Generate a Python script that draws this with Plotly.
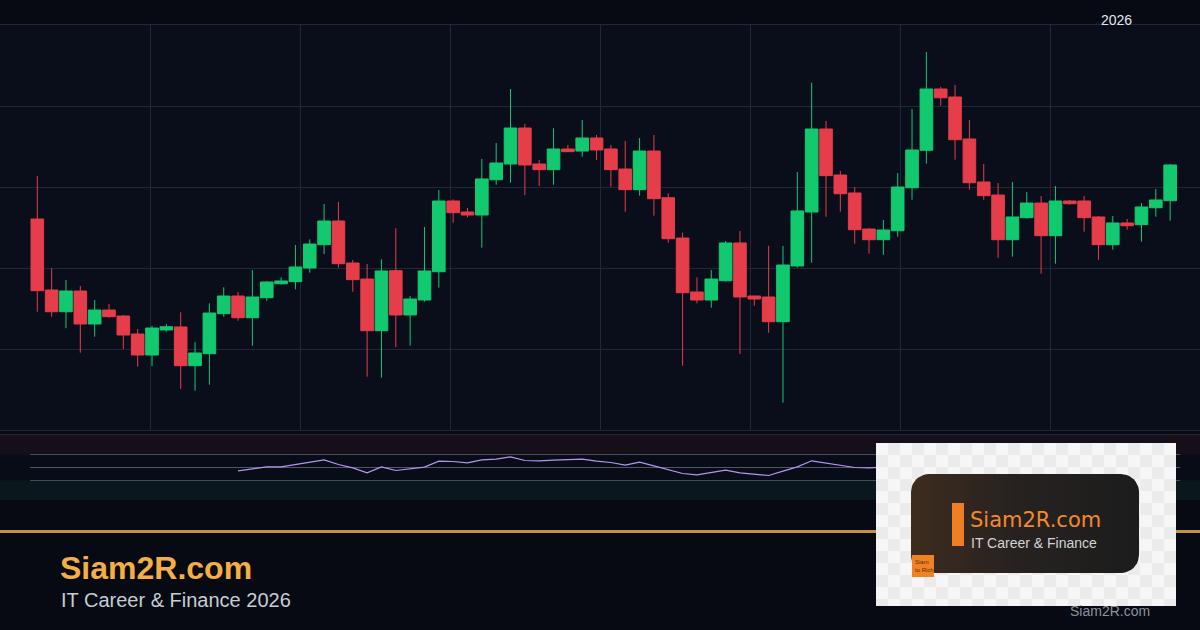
import math
import plotly.graph_objects as go

# ---------------- data ----------------
opens = [126.05, 117.28, 114.60, 117.16, 113.09, 114.81, 114.07, 111.85, 109.26, 112.35,
         112.72, 107.94, 109.42, 114.36, 116.54, 113.86, 116.33, 118.06, 118.31, 120.00,
         122.88, 125.80, 120.62, 118.64, 112.26, 119.67, 114.20, 116.05, 119.54, 128.27,
         126.91, 126.54, 130.90, 132.84, 137.28, 132.84, 132.14, 134.69, 134.44, 136.05,
         134.69, 132.22, 129.67, 134.44, 128.68, 123.70, 117.04, 116.05, 118.43, 123.09,
         116.54, 116.42, 113.37, 120.25, 126.91, 137.16, 131.48, 129.26, 124.81, 123.49,
         124.60, 129.91, 134.53, 142.10, 141.11, 135.93, 130.62, 129.01, 123.49, 126.21,
         128.02, 123.99, 128.27, 128.27, 126.30, 122.88, 125.56, 125.35, 127.44, 128.31]
highs = [131.36, 119.96, 118.52, 117.78, 116.05, 115.56, 114.20, 112.47, 112.84, 113.09,
         114.53, 110.83, 115.64, 117.62, 117.04, 119.75, 118.40, 118.85, 122.84, 123.54,
         127.90, 128.15, 120.99, 120.49, 121.07, 124.90, 116.54, 125.06, 129.63, 128.48,
         127.41, 133.46, 135.43, 142.10, 137.78, 133.33, 137.25, 135.19, 138.27, 136.42,
         135.19, 135.68, 136.05, 136.42, 129.22, 124.36, 118.85, 119.75, 123.33, 124.57,
         116.60, 122.75, 122.72, 131.85, 142.88, 138.15, 131.98, 130.00, 124.94, 125.93,
         131.73, 139.63, 146.67, 142.35, 142.59, 138.27, 132.84, 130.49, 130.62, 129.38,
         128.89, 130.12, 128.40, 128.89, 126.42, 126.42, 126.05, 128.02, 129.75, 132.84]
lows = [114.60, 113.99, 112.56, 109.54, 111.52, 113.86, 110.00, 107.81, 107.90, 112.14,
        105.06, 104.85, 105.59, 113.99, 113.49, 110.41, 115.96, 117.95, 117.37, 119.42,
        121.73, 120.04, 117.07, 106.58, 106.46, 110.25, 110.41, 115.84, 117.57, 125.59,
        126.26, 122.51, 130.28, 130.53, 129.01, 130.12, 130.28, 134.32, 133.74, 133.33,
        130.04, 126.95, 128.93, 126.46, 123.12, 107.94, 115.64, 115.10, 118.31, 109.38,
        115.35, 112.01, 103.37, 120.04, 120.65, 126.33, 126.95, 123.00, 121.77, 121.64,
        123.86, 128.43, 132.88, 140.04, 133.37, 129.67, 128.43, 121.27, 121.40, 126.09,
        119.30, 120.53, 127.81, 124.48, 121.02, 122.26, 124.73, 123.25, 126.33, 125.84]
closes = [117.20, 114.60, 117.16, 113.09, 114.81, 113.99, 111.73, 109.26, 112.59, 112.75,
          107.94, 109.51, 114.44, 116.54, 113.86, 116.42, 118.27, 118.40, 120.12, 122.96,
          125.80, 120.53, 118.56, 112.26, 119.63, 114.20, 116.17, 119.63, 128.27, 126.83,
          126.54, 130.99, 132.96, 137.28, 132.72, 132.14, 134.69, 134.36, 136.05, 134.57,
          132.14, 129.67, 134.44, 128.56, 123.62, 116.95, 116.05, 118.64, 123.09, 116.42,
          116.17, 113.37, 120.37, 127.04, 137.16, 131.40, 129.17, 124.73, 123.49, 124.69,
          130.00, 134.57, 142.10, 141.02, 135.84, 130.53, 128.93, 123.49, 126.30, 128.02,
          123.99, 128.27, 127.94, 126.21, 122.88, 125.56, 125.22, 127.53, 128.40, 132.72]

rsi_start = 14
rsi_values = [44.9, 48.5, 51.0, 51.0, 54.6, 58.7, 61.8, 54.6, 49.5, 41.8,
              51.0, 45.4, 47.9, 50.5, 59.7, 59.2, 57.2, 61.8, 62.8, 66.4,
              60.8, 60.3, 61.3, 61.8, 62.8, 59.7, 57.7, 53.6, 58.2, 52.6,
              46.9, 40.8, 38.7, 41.8, 45.9, 41.8, 40.3, 37.7, 44.4, 51.0,
              60.3, 57.2, 53.1, 50.0, 49.5, 50.5, 55.0, 59.5, 65.0, 63.0,
              56.5, 51.0, 48.5, 43.5, 46.5, 48.5, 45.0, 49.0, 48.8, 47.0,
              44.0, 47.0, 46.8, 49.0, 51.0, 55.0]
rsi_levels = [70, 50, 30]

year_label = "2026"
brand = "Siam2R.com"
tagline = "IT Career & Finance 2026"
logo_tagline = "IT Career & Finance"
logo_badge = "Siam<br>to Rich"

# ---------------- style ----------------
W, H = 1200, 630
GREEN = "#12c970"
RED = "#e63d4b"
GRID = "#212737"
PAPER = "#070a12"

def py(y):
    return 1 - y / H

def px(x):
    return x / W

candle_x = list(range(len(opens)))
rsi_x = list(range(rsi_start, rsi_start + len(rsi_values)))

step = 14.34           # pixels per candle
first_px = 37.3        # pixel of first candle
x_lo = -first_px / step
x_hi = (W - first_px) / step

fig = go.Figure()

fig.add_trace(go.Candlestick(
    x=candle_x, open=opens, high=highs, low=lows, close=closes,
    increasing=dict(line=dict(color=GREEN, width=1), fillcolor=GREEN),
    decreasing=dict(line=dict(color=RED, width=1), fillcolor=RED),
    whiskerwidth=0, hoverinfo="skip", xaxis="x", yaxis="y"))

fig.add_trace(go.Scatter(
    x=rsi_x, y=rsi_values, mode="lines",
    line=dict(color="#b794f4", width=1.2),
    hoverinfo="skip", xaxis="x2", yaxis="y2"))

# ---- logo (pixel coordinate overlay axes) ----
lx0, lx1, ly0, ly1 = 876, 1176, 443, 606
cell = 12
xe = list(range(lx0, lx1 + 1, cell))
ye = list(range(ly0, ly1, cell)) + [ly1]
z = [[(r + c) % 2 for c in range(len(xe) - 1)] for r in range(len(ye) - 1)]
fig.add_trace(go.Heatmap(
    x=xe, y=ye, z=z, zmin=0, zmax=1, showscale=False, hoverinfo="skip",
    colorscale=[[0, "#f6f6f6"], [1, "#ebebeb"]], xaxis="x3", yaxis="y3"))


def rrect(x0, y0, x1, y1, r, n=10):
    xs, ys = [], []
    corners = [(x1 - r, y0 + r, -90, 0), (x1 - r, y1 - r, 0, 90),
               (x0 + r, y1 - r, 90, 180), (x0 + r, y0 + r, 180, 270)]
    for cx, cy, a0, a1 in corners:
        for k in range(n + 1):
            a = math.radians(a0 + (a1 - a0) * k / n)
            xs.append(cx + r * math.cos(a))
            ys.append(cy + r * math.sin(a))
    xs.append(xs[0])
    ys.append(ys[0])
    return xs, ys

bx, by = rrect(911, 474, 1139, 573, 18)
fig.add_trace(go.Scatter(
    x=bx, y=by, mode="lines", fill="toself", line=dict(width=0, color="rgba(0,0,0,0)"),
    fillgradient=dict(type="horizontal",
                      colorscale=[[0, "#3e2c1f"], [0.45, "#272220"], [1, "#1c1c1c"]]),
    hoverinfo="skip", xaxis="x3", yaxis="y3"))

shapes = [
    # main plot background
    dict(type="rect", xref="paper", yref="paper", x0=0, x1=1, y0=py(430), y1=py(25),
         fillcolor="#0a0e1b", line=dict(width=0), layer="below"),
    # RSI panel background and zones
    dict(type="rect", xref="paper", yref="paper", x0=0, x1=1, y0=py(500), y1=py(435),
         fillcolor="#080c17", line=dict(width=0), layer="below"),
    dict(type="rect", xref="paper", yref="y2", x0=0, x1=1, y0=70, y1=100,
         fillcolor="#150f19", line=dict(width=0), layer="below"),
    dict(type="rect", xref="paper", yref="y2", x0=0, x1=1, y0=0, y1=30,
         fillcolor="#0a171c", line=dict(width=0), layer="below"),
    # orange separator
    dict(type="line", xref="paper", yref="paper", x0=0, x1=1, y0=py(531.5), y1=py(531.5),
         line=dict(color="#c8913e", width=3), layer="below"),
    # logo pieces
    dict(type="rect", xref="x3", yref="y3", x0=952, x1=964, y0=503, y1=546,
         fillcolor="#ef7f24", line=dict(width=0), layer="above"),
    dict(type="rect", xref="x3", yref="y3", x0=912, x1=934, y0=555, y1=577,
         fillcolor="#f08224", line=dict(width=0), layer="above"),
]
level_colors = ["#474d5c", "#505666", "#3e5159"]
for lvl, col in zip(rsi_levels, level_colors):
    shapes.append(dict(type="line", xref="x2", yref="y2", x0=-0.5, x1=79.7, y0=lvl, y1=lvl,
                       line=dict(color=col, width=1), layer="below"))

sans = "Liberation Sans, Arial, sans-serif"
annotations = [
    dict(text=year_label, x=px(1116), y=py(20), xref="paper", yref="paper", showarrow=False,
         xanchor="center", yanchor="middle", font=dict(family=sans, size=14, color="#e4e6ec")),
    dict(text="<b>" + brand + "</b>", x=px(58), y=py(567.5), xref="paper", yref="paper",
         showarrow=False, xanchor="left", yanchor="middle",
         font=dict(family=sans, size=32, color="#f4ae45")),
    dict(text=tagline, x=px(59), y=py(600), xref="paper", yref="paper", showarrow=False,
         xanchor="left", yanchor="middle", font=dict(family=sans, size=20, color="#c8ccd4")),
    dict(text=brand, x=px(1110), y=py(611), xref="paper", yref="paper", showarrow=False,
         xanchor="center", yanchor="middle", font=dict(family=sans, size=14, color="#8c919a")),
    dict(text=brand, x=968, y=519.5, xref="x3", yref="y3", showarrow=False,
         xanchor="left", yanchor="middle", font=dict(family="DejaVu Sans, sans-serif", size=21, color="#f28a2e")),
    dict(text=logo_tagline, x=969, y=542.5, xref="x3", yref="y3", showarrow=False,
         xanchor="left", yanchor="middle", font=dict(family=sans, size=14, color="#d4d4d4")),
    dict(text=logo_badge, x=913, y=566, xref="x3", yref="y3", showarrow=False,
         xanchor="left", yanchor="middle", align="left",
         font=dict(family=sans, size=6, color="#5a2e0c")),
]

fig.update_layout(
    width=W, height=H, margin=dict(l=0, r=0, t=0, b=0, pad=0),
    paper_bgcolor=PAPER, plot_bgcolor="rgba(0,0,0,0)", showlegend=False,
    boxgap=0.12, boxgroupgap=0,
    xaxis=dict(domain=[0, 1], range=[x_lo, x_hi], tick0=(150 - first_px) / step, dtick=150 / step,
               showgrid=True, gridcolor=GRID, gridwidth=1, showticklabels=False, ticks="",
               zeroline=False, showline=True, mirror=True, linecolor=GRID, linewidth=1,
               rangeslider=dict(visible=False), fixedrange=True, anchor="y"),
    yaxis=dict(domain=[py(430), py(25)], range=[100, 150], tick0=100, dtick=10,
               showgrid=True, gridcolor=GRID, gridwidth=1, showticklabels=False, ticks="",
               zeroline=False, showline=False, fixedrange=True, anchor="x"),
    xaxis2=dict(matches="x", anchor="y2", showgrid=False, showticklabels=False, ticks="",
                zeroline=False, showline=True, side="top", linecolor=GRID, linewidth=1),
    yaxis2=dict(domain=[py(500), py(435)], range=[0, 100], showgrid=False, showticklabels=False,
                ticks="", zeroline=False, anchor="x2", fixedrange=True),
    xaxis3=dict(domain=[0, 1], range=[0, W], visible=False, anchor="y3", fixedrange=True),
    yaxis3=dict(domain=[0, 1], range=[H, 0], visible=False, anchor="x3", fixedrange=True),
    shapes=shapes, annotations=annotations,
)

fig.write_html("out.html", config={"displayModeBar": False},
               post_script="document.body.style.margin='0';document.body.style.background='#070a12';")
